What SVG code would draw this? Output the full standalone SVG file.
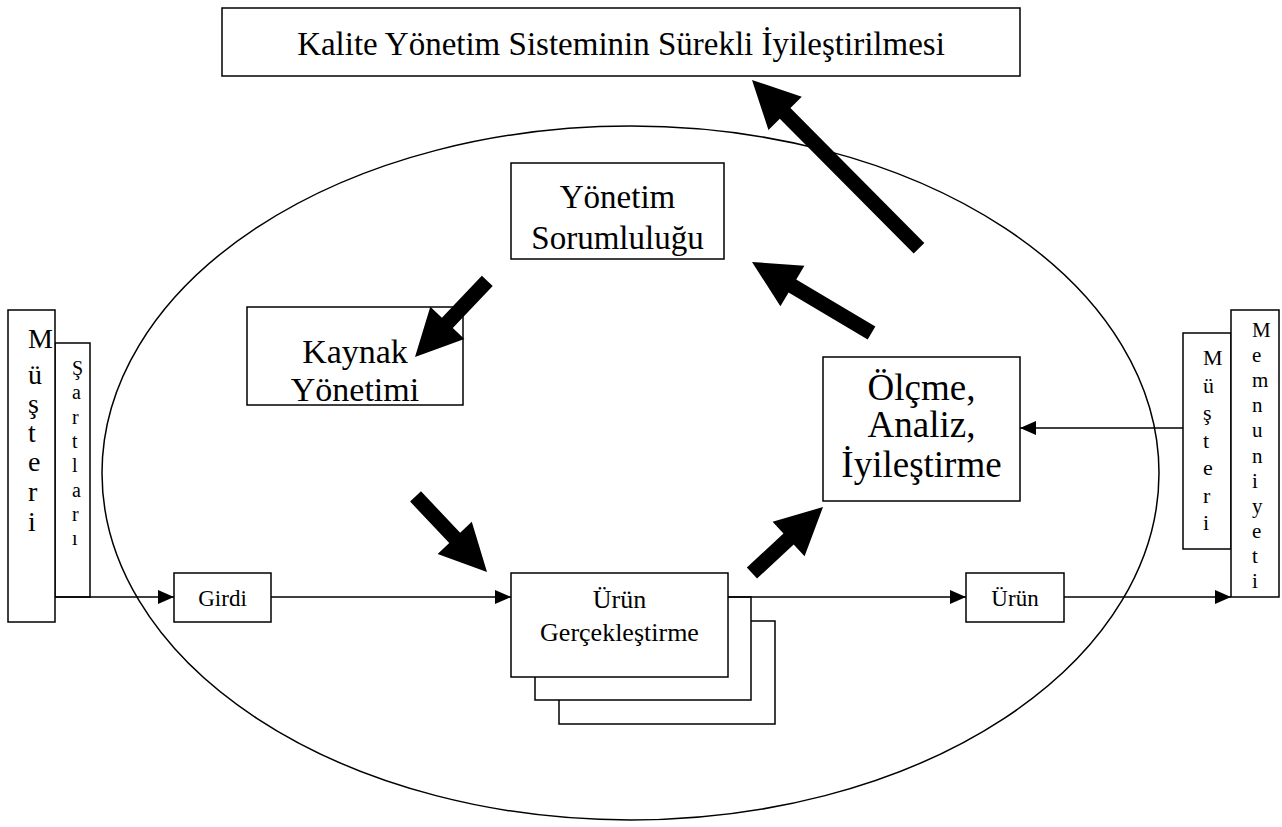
<svg xmlns="http://www.w3.org/2000/svg" width="1282" height="827" viewBox="0 0 1282 827">
<style>
.box{fill:#fff;stroke:#000;stroke-width:1.5}
.ln{fill:none;stroke:#000;stroke-width:1.5}
.t{font-family:'Liberation Serif','DejaVu Serif',serif;fill:#000;text-anchor:middle}
.v{font-family:'Liberation Serif','DejaVu Serif',serif;fill:#000}
.big{fill:#000}
</style>
<defs>
<marker id="ah" markerUnits="userSpaceOnUse" markerWidth="16" markerHeight="14" refX="16" refY="7" orient="auto">
<path d="M0,0 L16,7 L0,14 Z" fill="#000"/>
</marker>
</defs>
<rect width="1282" height="827" fill="#fff"/>
<ellipse cx="630.5" cy="473" rx="528.5" ry="347" class="ln"/>

<g id="title">
<rect x="222" y="8" width="798" height="68" class="box"/>
<text x="621" y="55" class="t" font-size="33">Kalite Yönetim Sisteminin Sürekli İyileştirilmesi</text>
</g>

<g id="yonetim">
<rect x="511" y="163" width="213" height="96" class="box"/>
<text x="617.5" y="208" class="t" font-size="33">Yönetim</text>
<text x="617.5" y="249" class="t" font-size="33">Sorumluluğu</text>
</g>

<g id="kaynak">
<rect x="247" y="307" width="216" height="98" class="box"/>
<text x="355" y="363" class="t" font-size="34">Kaynak</text>
<text x="355" y="401" class="t" font-size="34">Yönetimi</text>
</g>

<g id="olcme">
<rect x="823" y="357" width="197" height="144" class="box"/>
<text x="921.5" y="400" class="t" font-size="37">Ölçme,</text>
<text x="921.5" y="437" class="t" font-size="37">Analiz,</text>
<text x="921.5" y="477" class="t" font-size="37">İyileştirme</text>
</g>

<g id="urunger">
<rect x="559" y="621" width="216" height="103" class="box"/>
<rect x="535" y="597" width="216" height="103" class="box"/>
<rect x="511" y="573" width="217" height="104" class="box"/>
<text x="619.5" y="608" class="t" font-size="26">Ürün</text>
<text x="619.5" y="641" class="t" font-size="26">Gerçekleştirme</text>
</g>

<g id="girdi">
<rect x="174" y="573" width="97" height="49" class="box"/>
<text x="222.5" y="606" class="t" font-size="23">Girdi</text>
</g>

<g id="urun">
<rect x="966" y="573" width="98" height="49" class="box"/>
<text x="1015" y="606" class="t" font-size="23">Ürün</text>
</g>

<g id="sartlari">
<rect x="55" y="343" width="35" height="254" class="box"/>
<text class="v" font-size="20"><tspan x="72" y="375">Ş</tspan><tspan x="72" y="399">a</tspan><tspan x="72" y="424">r</tspan><tspan x="72" y="448">t</tspan><tspan x="72" y="472">l</tspan><tspan x="72" y="497">a</tspan><tspan x="72" y="521">r</tspan><tspan x="72" y="545">ı</tspan></text>
</g>

<g id="musteri-sol">
<rect x="8" y="310" width="47" height="312" class="box"/>
<text class="v" font-size="28"><tspan x="28" y="348">M</tspan><tspan x="28" y="384">ü</tspan><tspan x="28" y="413">ş</tspan><tspan x="28" y="442">t</tspan><tspan x="28" y="471">e</tspan><tspan x="28" y="501">r</tspan><tspan x="28" y="531">i</tspan></text>
</g>

<g id="musteri-sag">
<rect x="1183" y="333" width="48" height="216" class="box"/>
<text class="v" font-size="22"><tspan x="1203" y="365">M</tspan><tspan x="1203" y="393">ü</tspan><tspan x="1203" y="420">ş</tspan><tspan x="1203" y="448">t</tspan><tspan x="1203" y="475">e</tspan><tspan x="1203" y="503">r</tspan><tspan x="1203" y="530">i</tspan></text>
</g>

<g id="memnuniyeti">
<rect x="1231" y="310" width="48" height="287" class="box"/>
<text class="v" font-size="21"><tspan x="1252" y="337">M</tspan><tspan x="1252" y="362">e</tspan><tspan x="1252" y="387">m</tspan><tspan x="1252" y="412">n</tspan><tspan x="1252" y="437">u</tspan><tspan x="1252" y="463">n</tspan><tspan x="1252" y="488">i</tspan><tspan x="1252" y="513">y</tspan><tspan x="1252" y="538">e</tspan><tspan x="1252" y="563">t</tspan><tspan x="1252" y="588">i</tspan></text>
</g>

<g id="connectors">
<line x1="55" y1="597" x2="174" y2="597" class="ln" marker-end="url(#ah)"/>
<line x1="271" y1="597" x2="511" y2="597" class="ln" marker-end="url(#ah)"/>
<line x1="728" y1="597" x2="966" y2="597" class="ln" marker-end="url(#ah)"/>
<line x1="1064" y1="597" x2="1231" y2="597" class="ln" marker-end="url(#ah)"/>
<line x1="1183" y1="428" x2="1020" y2="428" class="ln" marker-end="url(#ah)"/>
<polygon class="big" transform="translate(752,80) rotate(-134.8)" points="0,0 -47,-23.5 -47,-7.5 -237,-7.5 -237,7.5 -47,7.5 -47,23.5"/>
<polygon class="big" transform="translate(415,357) rotate(133.5)" points="0,0 -47,-23.5 -47,-7.5 -105,-7.5 -105,7.5 -47,7.5 -47,23.5"/>
<polygon class="big" transform="translate(487,572) rotate(46.6)" points="0,0 -47,-23.5 -47,-7.5 -104,-7.5 -104,7.5 -47,7.5 -47,23.5"/>
<polygon class="big" transform="translate(823,507) rotate(-42.9)" points="0,0 -47,-23.5 -47,-7.5 -97,-7.5 -97,7.5 -47,7.5 -47,23.5"/>
<polygon class="big" transform="translate(752,262) rotate(-149.3)" points="0,0 -47,-23.5 -47,-7.5 -139,-7.5 -139,7.5 -47,7.5 -47,23.5"/>
</g>
</svg>
